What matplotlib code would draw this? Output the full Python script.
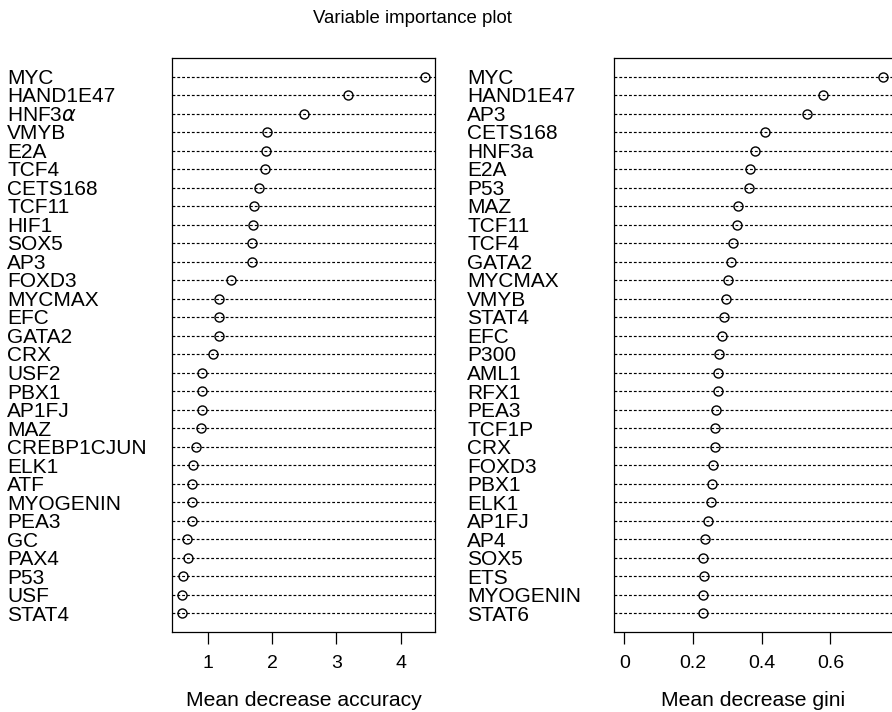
import matplotlib
matplotlib.use("Agg")
import matplotlib.pyplot as plt
from matplotlib.transforms import blended_transform_factory, ScaledTranslation

plt.rcParams["font.family"] = ["Liberation Sans", "DejaVu Sans"]

# left panel: mean decrease accuracy (top to bottom)
acc_names = [
    "MYC", "HAND1E47", r"HNF3$\alpha$", "VMYB", "E2A", "TCF4", "CETS168", "TCF11",
    "HIF1", "SOX5", "AP3", "FOXD3", "MYCMAX", "EFC", "GATA2", "CRX", "USF2",
    "PBX1", "AP1FJ", "MAZ", "CREBP1CJUN", "ELK1", "ATF", "MYOGENIN", "PEA3",
    "GC", "PAX4", "P53", "USF", "STAT4",
]
acc_values = [
    4.386, 3.187, 2.497, 1.916, 1.900, 1.884, 1.800, 1.717,
    1.706, 1.680, 1.685, 1.356, 1.173, 1.162, 1.162, 1.080, 0.910,
    0.900, 0.906, 0.890, 0.816, 0.760, 0.749, 0.749, 0.749,
    0.675, 0.686, 0.608, 0.592, 0.587,
]

# right panel: mean decrease gini (top to bottom)
gini_names = [
    "MYC", "HAND1E47", "AP3", "CETS168", "HNF3a", "E2A", "P53", "MAZ",
    "TCF11", "TCF4", "GATA2", "MYCMAX", "VMYB", "STAT4", "EFC", "P300",
    "AML1", "RFX1", "PEA3", "TCF1P", "CRX", "FOXD3", "PBX1", "ELK1",
    "AP1FJ", "AP4", "SOX5", "ETS", "MYOGENIN", "STAT6",
]
gini_values = [
    0.7525, 0.580, 0.531, 0.410, 0.380, 0.366, 0.363, 0.332,
    0.328, 0.317, 0.310, 0.301, 0.296, 0.291, 0.284, 0.275,
    0.274, 0.272, 0.267, 0.263, 0.264, 0.259, 0.254, 0.252,
    0.244, 0.236, 0.230, 0.231, 0.229, 0.229,
]

acc_ticks = [1, 2, 3, 4]
gini_ticks = [0, 0.2, 0.4, 0.6]

W, H = 892, 712
fig = plt.figure(figsize=(W / 100, H / 100), dpi=100)


def px_rect(x0, x1, y0, y1):
    # pixel box -> figure fraction [left, bottom, width, height]
    return [x0 / W, 1 - y1 / H, (x1 - x0) / W, (y1 - y0) / H]


def dotchart(rect, names, values, xmin, ticks, tick_labels, xlabel, label_x):
    ax = fig.add_axes(rect)
    n = len(values)
    ys = list(range(n, 0, -1))
    hi = max(values)
    pad = 0.04 * (hi - xmin)
    ax.set_xlim(xmin - pad, hi + pad)
    ax.set_ylim(0, n + 1)
    for y in ys:
        ax.axhline(y, color="black", lw=0.85, ls=(0, (2.4, 1.7)), zorder=1)
    ax.plot(values, ys, "o", ms=6.5, mfc="none", mec="black", mew=1.0, zorder=2)
    ax.set_yticks([])
    ax.set_xticks(ticks)
    ax.set_xticklabels(tick_labels, fontsize=14)
    ax.tick_params(axis="x", length=8.5, width=0.9, pad=8)
    for s in ax.spines.values():
        s.set_linewidth(0.9)
    # row labels in the left margin
    trans = blended_transform_factory(fig.transFigure, ax.transData) + \
        ScaledTranslation(0, -5.2 / 72, fig.dpi_scale_trans)
    for name, y in zip(names, ys):
        ax.text(label_x / W, y, name, transform=trans, ha="left", va="baseline",
                fontsize=15, clip_on=False)
    cx = (rect[0] + rect[2] / 2)
    fig.text(cx, 1 - 706 / H, xlabel, ha="center", va="baseline", fontsize=15.2)
    return ax


dotchart(px_rect(172, 435, 58, 632), acc_names, acc_values, min(acc_values),
         acc_ticks, [str(t) for t in acc_ticks], "Mean decrease accuracy", 7)
ax2 = dotchart(px_rect(614, 893, 58, 632), gini_names, gini_values, 0,
               gini_ticks, ["0", "0.2", "0.4", "0.6"], "Mean decrease gini", 467)
ax2.spines["right"].set_visible(False)  # box is cut off by the image edge

fig.text(412 / W, 1 - 23 / H, "Variable importance plot", ha="center",
         va="baseline", fontsize=13.4)

fig.savefig("out.png", dpi=100)
